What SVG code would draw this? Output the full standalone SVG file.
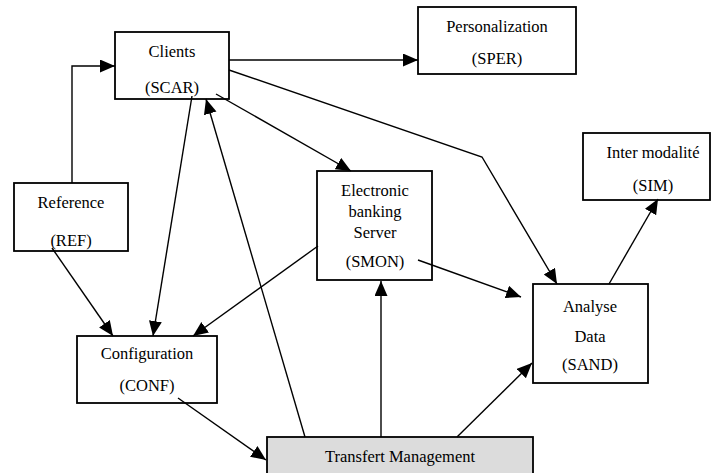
<svg xmlns="http://www.w3.org/2000/svg" width="713" height="473" viewBox="0 0 713 473">
<defs>
<marker id="ah" markerUnits="userSpaceOnUse" markerWidth="16" markerHeight="14" refX="15" refY="6.5" orient="auto">
<path d="M0,0 L15,6.5 L0,13 z" fill="#000"/>
</marker>
<style>
.box{fill:#fff;stroke:#000;stroke-width:1.8}
.gray{fill:#dcdcdc}
text{font-family:"Liberation Serif","Times New Roman",serif;font-size:16.5px;fill:#000;text-anchor:middle}
.c{fill:none;stroke:#000;stroke-width:1.4;marker-end:url(#ah)}
</style>
</defs>
<rect width="713" height="473" fill="#fff"/>
<g id="clients"><rect class="box" x="115" y="32" width="114" height="67"/><text x="172" y="57">Clients</text><text x="172" y="93">(SCAR)</text></g>
<g id="personalization"><rect class="box" x="418" y="7" width="158" height="67"/><text x="497" y="32">Personalization</text><text x="497" y="64">(SPER)</text></g>
<g id="reference"><rect class="box" x="14" y="183" width="114" height="68"/><text x="71" y="208">Reference</text><text x="71" y="246">(REF)</text></g>
<g id="smon"><rect class="box" x="317" y="171" width="115" height="109"/><text x="375" y="196">Electronic</text><text x="375" y="217">banking</text><text x="375" y="238">Server</text><text x="375" y="267">(SMON)</text></g>
<g id="sim"><rect class="box" x="583" y="133" width="127" height="67"/><text x="653" y="158">Inter modalité</text><text x="653" y="191">(SIM)</text></g>
<g id="sand"><rect class="box" x="533" y="284" width="115" height="99"/><text x="590" y="312">Analyse</text><text x="590" y="342">Data</text><text x="590" y="370">(SAND)</text></g>
<g id="conf"><rect class="box" x="77" y="336" width="140" height="67"/><text x="147" y="359">Configuration</text><text x="147" y="391">(CONF)</text></g>
<g id="transfert"><rect class="box gray" x="267" y="437" width="266" height="45"/><text x="400" y="462">Transfert Management</text></g>
<g id="connectors">
<polyline class="c" points="72,183 72,66 115,66"/>
<line class="c" x1="229" y1="60" x2="418" y2="60"/>
<line class="c" x1="216" y1="94" x2="351" y2="171"/>
<polyline class="c" points="229,70 482,157 557,284"/>
<line class="c" x1="418" y1="260" x2="521" y2="297"/>
<line class="c" x1="318" y1="246" x2="193" y2="336"/>
<line class="c" x1="192" y1="96" x2="153" y2="336"/>
<line class="c" x1="52" y1="248" x2="113" y2="336"/>
<line class="c" x1="305" y1="437" x2="206" y2="99"/>
<line class="c" x1="178" y1="398" x2="266" y2="460"/>
<line class="c" x1="381" y1="437" x2="381" y2="281"/>
<line class="c" x1="457" y1="437" x2="532" y2="363"/>
<line class="c" x1="609" y1="284" x2="658" y2="199"/>
</g>
</svg>
